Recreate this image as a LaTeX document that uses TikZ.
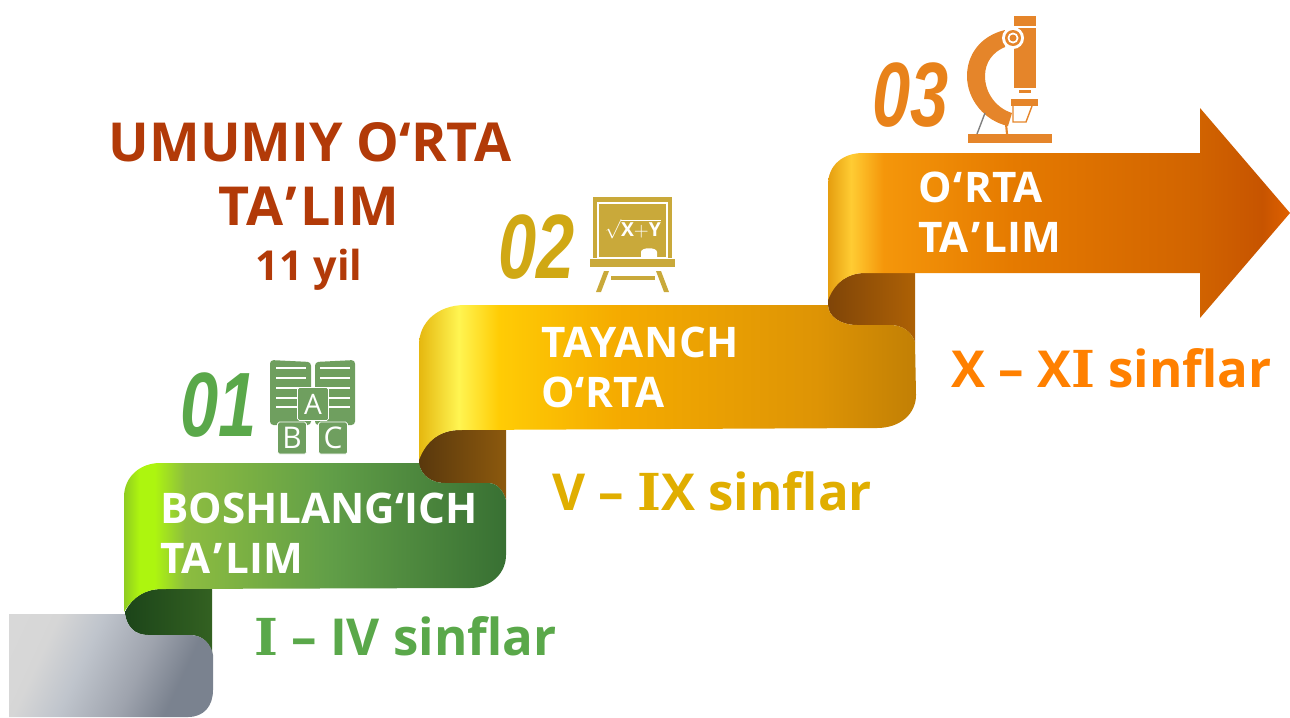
\documentclass[tikz,border=0pt]{standalone}
\usepackage{fontspec}
\setmainfont{Open Sans}
\newfontfamily\numfont{Liberation Sans}
\newfontfamily\serfont{DejaVu Serif}
\definecolor{titlered}{HTML}{B23A08}
\definecolor{grn}{HTML}{5AA84A}
\definecolor{yel}{HTML}{E0AE00}
\definecolor{org}{HTML}{FF8000}
\definecolor{bookc}{HTML}{6F9F5F}
\definecolor{boardc}{HTML}{C9A93A}
\definecolor{numyel}{HTML}{D0A814}
\definecolor{micc}{HTML}{E5852A}
\definecolor{numorg}{HTML}{E8821A}
% stops run from 25bp (left of the shape) to 75bp (right of the shape)
\pgfdeclarehorizontalshading{greyband}{100bp}{rgb(0bp)=(.86,.86,.86);rgb(30bp)=(.84,.84,.84);rgb(42bp)=(.75,.77,.80);rgb(58bp)=(.62,.64,.68);rgb(70bp)=(.48,.51,.56);rgb(100bp)=(.48,.51,.56)}
\pgfdeclarehorizontalshading{greenband}{100bp}{rgb(0bp)=(.56,.80,.13);rgb(25bp)=(.56,.80,.13);rgb(27bp)=(.68,.96,.06);rgb(29bp)=(.68,.96,.06);rgb(33bp)=(.55,.74,.25);rgb(52bp)=(.38,.62,.28);rgb(75bp)=(.22,.44,.20);rgb(100bp)=(.22,.44,.20)}
\pgfdeclarehorizontalshading{yellowband}{100bp}{rgb(0bp)=(.90,.72,.06);rgb(25bp)=(.90,.72,.06);rgb(29bp)=(1,.96,.32);rgb(33bp)=(1,.80,.02);rgb(45bp)=(.96,.67,0);rgb(65bp)=(.87,.58,.02);rgb(75bp)=(.76,.50,.02);rgb(100bp)=(.76,.50,.02)}
\pgfdeclarehorizontalshading{orangeband}{100bp}{rgb(0bp)=(.90,.62,.06);rgb(25bp)=(.90,.62,.06);rgb(27.5bp)=(1,.80,.20);rgb(31bp)=(.96,.59,.04);rgb(45bp)=(.90,.48,0);rgb(65bp)=(.82,.39,0);rgb(72bp)=(.78,.33,0);rgb(75bp)=(.88,.38,0);rgb(100bp)=(.88,.38,0)}
\pgfdeclarehorizontalshading{greenfold}{100bp}{rgb(0bp)=(.11,.27,.10);rgb(25bp)=(.11,.27,.10);rgb(75bp)=(.20,.38,.13);rgb(100bp)=(.20,.38,.13)}
\pgfdeclarehorizontalshading{brownfold}{100bp}{rgb(0bp)=(.35,.22,.05);rgb(25bp)=(.35,.22,.05);rgb(75bp)=(.55,.35,.05);rgb(100bp)=(.55,.35,.05)}
\pgfdeclarehorizontalshading{rustfold}{100bp}{rgb(0bp)=(.50,.27,.03);rgb(25bp)=(.50,.27,.03);rgb(75bp)=(.68,.38,.02);rgb(100bp)=(.68,.38,.02)}
\tikzset{
  steptext/.style={text=white,anchor=west,align=left,inner sep=0pt,font=\bfseries\fontsize{24}{28.4}\selectfont},
  classtext/.style={anchor=base west,inner sep=0pt,font=\bfseries\fontsize{29}{34}\selectfont},
  titletext/.style={text=titlered,anchor=base,inner sep=0pt},
  numtext/.style={anchor=base west,inner sep=0pt,xscale=.75,font=\numfont\bfseries\itshape\fontsize{52}{52}\selectfont},
  icontext/.style={text=white,inner sep=0pt},
}
\newcommand{\slabI}{{\serfont\bfseries I}}
\newcommand{\tam}{\kern1.5pt’\kern1.5pt}
\begin{document}
\begin{tikzpicture}[x=0.02cm,y=-0.02cm]
\useasboundingbox (0,0) rectangle (1290,717);

% arrow and its fold
\path[shade,shading=rustfold] (828,298) .. controls (835,282) and (848,273) .. (865,273) -- (915,273) -- (915,342) .. controls (911,331) and (902,325) .. (890,325) -- (857,325) .. controls (840,325) and (828,316) .. (828,305) -- cycle;
\path[shade,shading=orangeband] (828,300) -- (828,185) .. controls (828,165) and (843,153) .. (863,153) -- (1200,153) -- (1200,108) -- (1290,213) -- (1200,318) -- (1200,273) -- (865,273) .. controls (848,273) and (835,282) .. (828,300) -- cycle;

% yellow step
\path[shade,shading=brownfold] (419,458) .. controls (426,441) and (440,430) .. (460,430) -- (506,430) -- (506,500) .. controls (503,490) and (497,483) .. (488,483) -- (445,483) .. controls (432,483) and (421,476) .. (419,463) -- cycle;
\path[shade,shading=yellowband] (419,460) -- (419,345) .. controls (419,322) and (438,305) .. (465,305) -- (828,305) .. controls (828,316) and (840,325) .. (857,325) -- (890,325) .. controls (902,325) and (911,331) .. (915,342) -- (916,395) .. controls (916,414) and (900,428) .. (877,428) -- (460,430) .. controls (440,430) and (426,441) .. (419,460) -- cycle;

% green step
\path[shade,shading=greenfold] (126,610) .. controls (133,597) and (145,589) .. (162,589) -- (212,588) -- (212,655) .. controls (211,643) and (202,635) .. (190,635) -- (148,635) .. controls (135,635) and (127,627) .. (125,614) -- cycle;
\path[shade,shading=greenband] (124,612) -- (124,497) .. controls (124,477) and (140,463) .. (160,463) -- (419,463) .. controls (421,476) and (432,483) .. (445,483) -- (488,483) .. controls (497,483) and (503,490) .. (506,500) -- (506,555) .. controls (506,574) and (490,588) .. (470,588) -- (162,589) .. controls (145,589) and (133,597) .. (124,612) -- cycle;

% grey start
\path[shade,shading=greyband,shading angle=-25] (9,614) -- (125,614) .. controls (127,627) and (135,635) .. (148,635) -- (190,635) .. controls (202,635) and (211,643) .. (213,655) -- (213,690) .. controls (213,706) and (204,717) .. (188,717) -- (9,717) -- cycle;

% title
\node[titletext,font=\bfseries\fontsize{30.6}{31}\selectfont] (title1) at (310,161) {UMUMIY O‘RTA};
\node[titletext,font=\bfseries\fontsize{30.6}{31}\selectfont] (title2) at (309,225) {TA\tam LIM};
\node[titletext,font=\bfseries\fontsize{23.5}{24}\selectfont] (title3) at (309,280) {11 yil};

% step labels
\node[steptext] (step1) at (160,533) {BOSHLANG‘ICH\\TA\tam LIM};
\node[steptext,font=\bfseries\fontsize{24}{28.4}\selectfont\addfontfeature{LetterSpace=1.2}] (step2) at (541,367) {TAYANCH\\O‘RTA};
\node[steptext,font=\bfseries\fontsize{24}{28.4}\selectfont] (step3) at (918,212) {O\kern1pt‘\kern1pt RTA\\TA\tam LIM};

\node[classtext,text=grn] (class1) at (254,655) {\slabI{} – IV sinflar};
\node[classtext,text=yel] (class2) at (552,510) {V – \slabI{}X sinflar};
\node[classtext,text=org] (class3) at (951,387) {X – X\slabI{} sinflar};

% numbers
\node[numtext,text=grn] (num1) at (180,436) {01};
\node[numtext,text=numyel] (num2) at (498,278) {02};
\node[numtext,text=numorg] (num3) at (872,126) {03};

% book icon
\fill[bookc,rounded corners=2pt] (270,360) -- (311,362) -- (311,425) -- (270,425) -- cycle;
\fill[bookc,rounded corners=2pt] (315,362) -- (355,360) -- (355,425) -- (315,425) -- cycle;
\foreach \y in {368,378,388,398,407} {
  \draw[white,line width=.8pt] (276,\y) -- (306,\y);
  \draw[white,line width=.8pt] (320,\y) -- (350,\y);
}
\node[draw=white,fill=bookc,icontext,minimum width=.62cm,minimum height=.66cm,rounded corners=1pt,font=\fontsize{16}{16}\selectfont] (blocka) at (313,404) {A};
\node[draw=white,fill=bookc,icontext,minimum width=.58cm,minimum height=.64cm,rounded corners=1pt,font=\fontsize{17}{17}\selectfont] (blockb) at (292,438) {B};
\node[draw=white,fill=bookc,icontext,minimum width=.58cm,minimum height=.64cm,rounded corners=1pt,font=\fontsize{17}{17}\selectfont] (blockc) at (333,438) {C};

% board icon
\fill[boardc] (593,197) rectangle (672,258);
\draw[white,line width=.8pt] (598,203) rectangle (667,258);
\node[icontext,font=\fontsize{11}{11}\selectfont] (formula) at (633,229) {$\sqrt{\mathbf{X{+}Y}}$};
\fill[white] (641,258) -- (641,252) .. controls (641,247) and (657,247) .. (657,252) -- (657,258) -- cycle;
\fill[boardc] (590,259) rectangle (675,267);
\fill[boardc] (604,271) -- (609,271) -- (601,292) -- (596,292) -- cycle;
\fill[boardc] (656,271) -- (661,271) -- (669,292) -- (664,292) -- cycle;
\fill[boardc] (611,276) rectangle (655,280);

% microscope icon
\fill[micc] (968,134) rectangle (1052,143);
\fill[micc] (1005,30) .. controls (980,36) and (967,55) .. (967,76) .. controls (967,100) and (985,121) .. (1008,126) -- (1012,113) .. controls (996,108) and (985,93) .. (985,76) .. controls (985,62) and (993,52) .. (1005,47) -- cycle;
\fill[micc] (1014,16) rectangle (1036,26);
\fill[micc] (1014,28) rectangle (1036,88);
\fill[micc] (1019,90) rectangle (1031,93);
\fill[white] (1013,38) circle[radius=11];
\fill[micc] (1013,38) circle[radius=8];
\fill[white] (1013,38) circle[radius=5.5];
\fill[micc] (1013,38) circle[radius=3.5];
\fill[micc] (1011,99) rectangle (1038,106);
\draw[micc,line width=.8pt] (1013,106) -- (1013,122) -- (1026,122) -- (1032,106);
\draw[gray,line width=.8pt] (985,113) -- (977,134);
\draw[micc,line width=1.2pt] (1006,124) -- (1007,134);
\end{tikzpicture}
\end{document}
